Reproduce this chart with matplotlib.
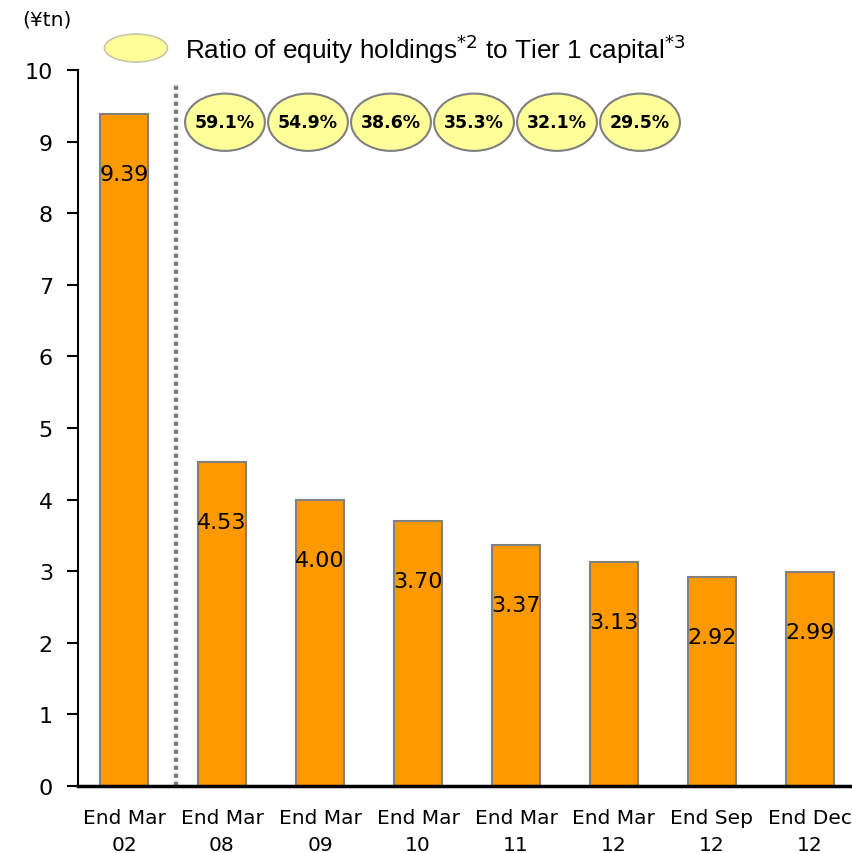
import matplotlib.pyplot as plt
from matplotlib.patches import Ellipse

# data
periods = ['End Mar\n02', 'End Mar\n08', 'End Mar\n09', 'End Mar\n10',
           'End Mar\n11', 'End Mar\n12', 'End Sep\n12', 'End Dec\n12']
holdings = [9.39, 4.53, 4.00, 3.70, 3.37, 3.13, 2.92, 2.99]
ratio_labels = ['59.1%', '54.9%', '38.6%', '35.3%', '32.1%', '29.5%']

fig = plt.figure(figsize=(8.53, 8.54), dpi=100)
ax = fig.add_axes([0.0914, 0.0785, 0.9086, 0.8384])

x = range(len(holdings))
ax.bar(x, holdings, width=0.49, color='#FF9900', edgecolor='#808080', linewidth=1.5, zorder=2)

for i, v in enumerate(holdings):
    ax.text(i, v - 0.84, f'{v:.2f}', ha='center', va='center', fontsize=16,
            family='DejaVu Sans', zorder=3)

# dotted separator between 02 and 08
ax.plot([0.53, 0.53], [0, 9.83], color='#808080', lw=3.2, ls=(0, (1, 0.8)),
        solid_capstyle='butt', zorder=1)

ax.set_xlim(-0.47, 7.44)
ax.set_ylim(0, 10)
ax.set_yticks(range(0, 11))
ax.set_xticks(list(x))
ax.set_xticklabels(periods, family='DejaVu Sans', fontsize=14.5, linespacing=1.55)
ax.tick_params(axis='x', length=0, pad=16)
ax.tick_params(axis='y', length=8, width=1.5, pad=10, labelsize=16, direction='out')
for lab in ax.get_yticklabels():
    lab.set_family('DejaVu Sans')

ax.spines['top'].set_visible(False)
ax.spines['right'].set_visible(False)
ax.spines['left'].set_linewidth(1.5)
ax.spines['bottom'].set_linewidth(2.5)

# ratio ellipses
for k, lab in enumerate(ratio_labels):
    cx = 0.1897 + k * 0.1071
    ax.add_patch(Ellipse((cx, 0.927), 0.103, 0.08, transform=ax.transAxes,
                         facecolor='#FFFF99', edgecolor='#808080', lw=1.5,
                         clip_on=False, zorder=4))
    ax.text(cx, 0.927, lab, transform=ax.transAxes, ha='center', va='center',
            fontsize=12.5, fontweight='bold', family='DejaVu Sans', zorder=5)

# legend-like key
fig.patches.append(Ellipse((0.1594, 0.9426), 0.0739, 0.0328, transform=fig.transFigure,
                           facecolor='#FFFF99', edgecolor='#C8C8A8', lw=1.2))
fig.text(0.217, 0.9426, r'Ratio of equity holdings$^{*2}$ to Tier 1 capital$^{*3}$',
         fontsize=18.8, family='Liberation Sans', va='center', ha='left')

fig.text(0.026, 0.976, '(¥tn)', fontsize=14.5, family='DejaVu Sans', va='center', ha='left')

fig.savefig('out.png', dpi=100)
